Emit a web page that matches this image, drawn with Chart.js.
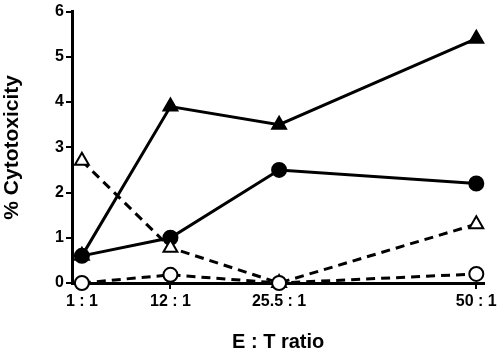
<!DOCTYPE html>
<html>
<head>
<meta charset="utf-8">
<script src="https://cdn.jsdelivr.net/npm/chart.js@4/dist/chart.umd.min.js"></script>
<style>
  html, body { margin: 0; padding: 0; background: #fff; }
  #wrap { width: 500px; height: 354px; }
</style>
</head>
<body>
<div id="wrap"><canvas id="c" width="500" height="354"></canvas></div>
<script>
// E:T ratios (x positions on a linear axis) and their labels
var ratios = [1, 12, 25.5, 50];
var ratioLabels = ["1 : 1", "12 : 1", "25.5 : 1", "50 : 1"];
var yTicks = [0, 1, 2, 3, 4, 5, 6];

// % cytotoxicity per series
var filledTriangle = [0.6, 3.9, 3.5, 5.4];
var filledCircle = [0.6, 1.0, 2.5, 2.2];
var openTriangle = [2.7, 0.78, 0.0, 1.3];
var openCircle = [0.0, 0.18, 0.0, 0.2];

function pts(vals) {
  return ratios.map(function (r, i) { return { x: r, y: vals[i] }; });
}

function series(vals, style, filled, dashed, size) {
  return {
    data: pts(vals),
    borderColor: "#000",
    backgroundColor: filled ? "#000" : "#fff",
    pointBorderColor: "#000",
    pointBackgroundColor: filled ? "#000" : "#fff",
    pointBorderWidth: 2,
    pointStyle: style,
    pointRadius: size,
    borderWidth: 3,
    borderDash: dashed ? [9, 6] : [],
    tension: 0,
    fill: false,
    clip: false
  };
}

var font = { family: "'Liberation Sans', Arial, sans-serif", weight: "bold" };

new Chart(document.getElementById("c"), {
  type: "line",
  data: {
    datasets: [
      series(openCircle, "circle", false, true, 7),
      series(openTriangle, "triangle", false, true, 8),
      series(filledCircle, "circle", true, false, 7),
      series(filledTriangle, "triangle", true, false, 8)
    ]
  },
  options: {
    responsive: false,
    animation: false,
    layout: { padding: { top: 6, right: 12, left: 0, bottom: 0 } },
    plugins: { legend: { display: false }, tooltip: { enabled: false } },
    scales: {
      x: {
        type: "linear",
        min: -0.23,
        max: 51,
        afterBuildTicks: function (s) {
          s.ticks = ratios.map(function (r) { return { value: r }; });
        },
        afterFit: function (s) { s.height = 71; },
        ticks: {
          color: "#000",
          font: Object.assign({ size: 16 }, font),
          maxRotation: 0,
          autoSkip: false,
          padding: 3,
          callback: function (v) { return ratioLabels[ratios.indexOf(v)]; }
        },
        grid: { drawOnChartArea: false, color: "#000", lineWidth: 2, tickLength: 6 },
        border: { color: "#000", width: 3 },
        title: {
          display: true,
          text: "E : T ratio",
          color: "#000",
          font: Object.assign({ size: 20 }, font),
          padding: { top: 16, bottom: 0 }
        }
      },
      y: {
        min: 0,
        max: 6,
        afterBuildTicks: function (s) {
          s.ticks = yTicks.map(function (v) { return { value: v }; });
        },
        afterFit: function (s) { s.width = 72; },
        ticks: {
          color: "#000",
          font: Object.assign({ size: 16 }, font),
          padding: 2
        },
        grid: { drawOnChartArea: false, color: "#000", lineWidth: 2, tickLength: 6 },
        border: { color: "#000", width: 3 },
        title: {
          display: true,
          text: "% Cytotoxicity",
          color: "#000",
          font: Object.assign({ size: 21 }, font),
          padding: { top: 0, bottom: 6 }
        }
      }
    }
  }
});
</script>
</body>
</html>
